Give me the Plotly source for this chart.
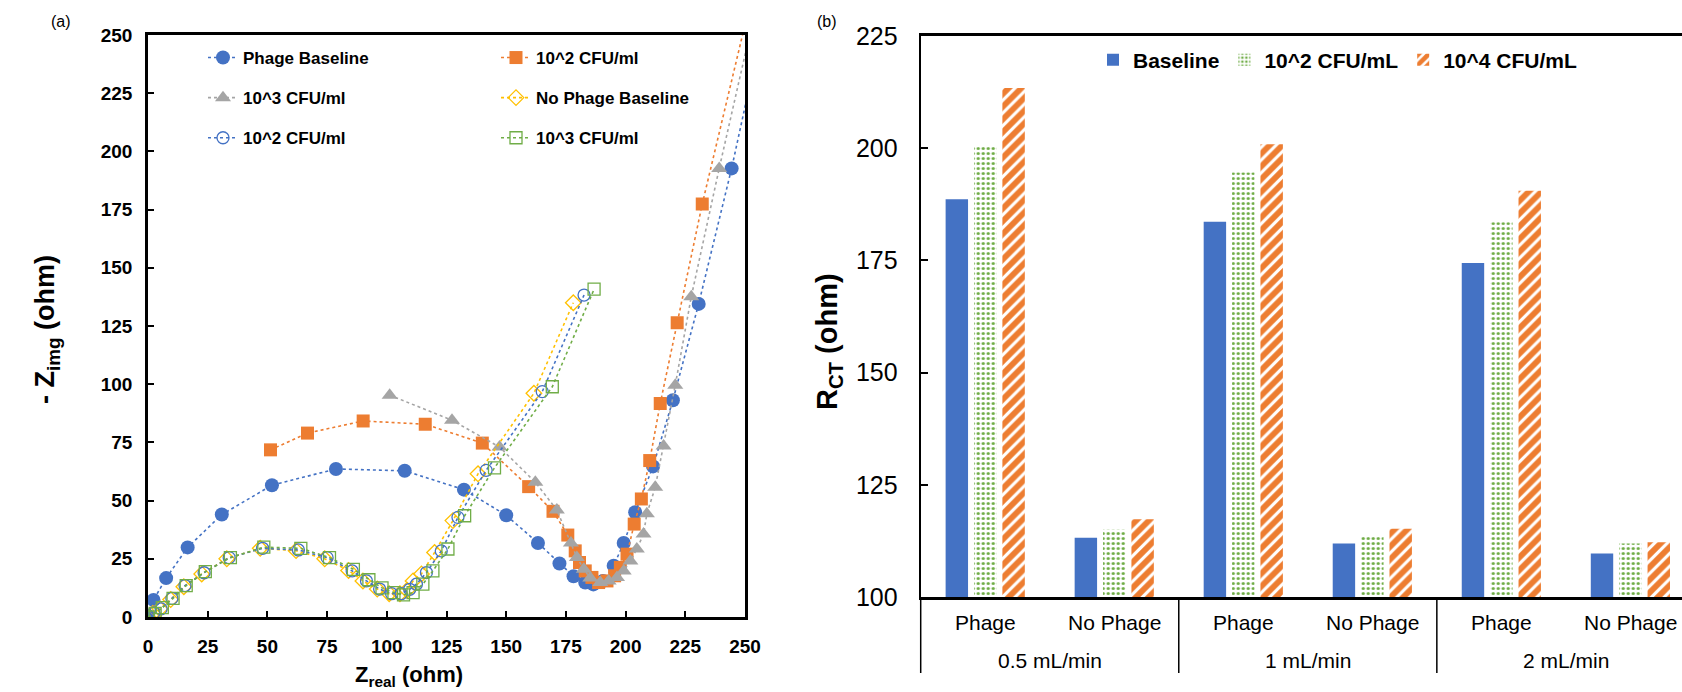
import plotly.graph_objects as go

W, H = 1682, 692
FONT = "Liberation Sans, Arial, sans-serif"

# ---------------- (a) Nyquist data ----------------
phage_base_x = [0, 2.3, 7.6, 16.6, 30.9, 51.9, 78.7, 107.5, 132.3, 150.0, 163.3, 172.3, 178.2, 183.1, 186.5, 190.5, 195.0, 199.2, 204.0, 211.5, 219.8, 230.6, 244.4, 256]
phage_base_y = [0.5, 7.3, 16.7, 29.9, 44.0, 56.6, 63.6, 62.8, 54.7, 43.7, 31.8, 23.0, 17.5, 14.8, 14.0, 15.5, 22.0, 31.8, 45.0, 64.7, 93.1, 134.5, 192.7, 247.5]

phage_e2_x = [51.3, 66.8, 90.1, 116.1, 140.0, 159.4, 169.6, 175.8, 178.9, 180.7, 183.1, 185.9, 188.7, 192.2, 195.4, 197.8, 200.6, 203.6, 206.6, 210.1, 214.5, 221.6, 232.1, 255]
phage_e2_y = [71.8, 79.0, 84.2, 82.8, 74.7, 56.0, 45.4, 35.2, 28.4, 23.4, 19.8, 17.0, 14.8, 15.5, 17.7, 21.3, 27.0, 39.9, 50.7, 67.2, 91.7, 126.4, 177.4, 276]

phage_e3_x = [101.2, 127.3, 147.2, 162.2, 171.2, 177.1, 179.6, 182.5, 185.2, 189.4, 192.9, 196.4, 199.2, 202.0, 204.7, 207.5, 208.9, 212.4, 215.9, 220.8, 227.5, 239.2, 253]
phage_e3_y = [95.3, 84.5, 73.0, 57.9, 46.0, 31.8, 25.6, 20.5, 16.7, 14.8, 15.5, 17.0, 19.8, 24.1, 29.2, 35.6, 44.3, 55.7, 73.4, 99.6, 137.6, 192.7, 255]

nophage_base_x = [0, 2, 5, 9.5, 15, 22.5, 33, 47, 62, 74, 84, 90, 96, 101, 105.5, 108.5, 111, 114.5, 120, 127.7, 138.2, 161.6, 178.1]
nophage_base_y = [0, 1.5, 3.5, 7.5, 13, 18.5, 25, 29.5, 28.5, 25, 20, 15.5, 12, 10, 10, 11.5, 15.5, 18.5, 27.7, 41.4, 61.5, 96.1, 135]

nophage_e2_x = [0, 2.5, 5.5, 10, 15.5, 23.5, 34, 48, 63, 75, 85.5, 91.5, 97, 102, 106, 109.6, 112.4, 116.6, 122.8, 129.8, 141.6, 165.1, 182.6]
nophage_e2_y = [0, 1.8, 3.5, 8, 13.5, 19, 25.5, 29.5, 28.8, 25.5, 19.8, 15.5, 12, 10, 10, 11.9, 14.1, 19.1, 28.4, 42.8, 63, 96.8, 138.3]

nophage_e3_x = [0, 3, 6, 10.5, 16, 24, 34.5, 48.5, 64, 76, 86, 92.5, 98, 103, 107, 111, 115.1, 119.3, 125.6, 132.6, 145.1, 169.3, 186.8]
nophage_e3_y = [0, 1.5, 4, 8, 13.5, 19.5, 25.5, 30, 29.5, 25.5, 20.5, 16, 12.5, 10.5, 9.5, 10.5, 14.1, 19.8, 29.2, 43.5, 64.1, 98.9, 140.8]

nyq_ticks = [0, 25, 50, 75, 100, 125, 150, 175, 200, 225, 250]

# ---------------- (b) R_CT bar data ----------------
flow_rates = ["0.5 mL/min", "0.5 mL/min", "1 mL/min", "1 mL/min", "2 mL/min", "2 mL/min"]
conditions = ["Phage", "No Phage", "Phage", "No Phage", "Phage", "No Phage"]
rct_baseline = [188.6, 113.2, 183.6, 111.9, 174.4, 109.7]
rct_e2 = [200.3, 115.0, 194.6, 113.7, 183.5, 111.9]
rct_e4 = [213.4, 117.3, 200.9, 115.2, 190.5, 112.2]
rct_ticks = [100, 125, 150, 175, 200, 225]

BLUE, ORANGE, GRAY, YELLOW, GREEN = "#4472C4", "#ED7D31", "#A5A5A5", "#FFC000", "#70AD47"

X2_LEFT = 920.7


def px(v):
    return v / W


def py(v):
    return (H - v) / H


fig = go.Figure()


def nyq(x, y, name, color, symbol, size, legend, group, open_=False):
    marker = dict(symbol=symbol, size=size, color=color)
    if open_:
        marker["line"] = dict(color=color, width=1.3)
    fig.add_trace(go.Scatter(
        x=x, y=y, name=name, mode="lines+markers",
        line=dict(color=color, width=1.6, dash="dot"),
        marker=marker, legend=legend, legendgroup=group,
        xaxis="x", yaxis="y"))


nyq(phage_base_x, phage_base_y, "Phage Baseline", BLUE, "circle", 14, "legend", "g1")
nyq(phage_e2_x, phage_e2_y, "10^2 CFU/ml", ORANGE, "square", 13, "legend2", "g2")
nyq(phage_e3_x, phage_e3_y, "10^3 CFU/ml", GRAY, "triangle-up", 14, "legend", "g3")
nyq(nophage_base_x, nophage_base_y, "No Phage Baseline", YELLOW, "diamond-open", 12, "legend2", "g4", True)
nyq(nophage_e2_x, nophage_e2_y, "10^2 CFU/ml", BLUE, "circle-open", 12, "legend", "g5", True)
nyq(nophage_e3_x, nophage_e3_y, "10^3 CFU/ml", GREEN, "square-open", 12, "legend2", "g6", True)

# category positions along the bar axis
xpos = list(range(len(conditions)))

fig.add_trace(go.Bar(x=xpos, y=rct_baseline, name="Baseline",
                     marker=dict(color=BLUE, line=dict(width=0)),
                     xaxis="x2", yaxis="y2", legend="legend3"))
fig.add_trace(go.Bar(x=xpos, y=rct_e2, name="10^2 CFU/mL",
                     marker=dict(color=GREEN, line=dict(width=0),
                                 pattern=dict(shape=".", fgcolor=GREEN, bgcolor="white",
                                              size=5, solidity=0.33, fgopacity=1,
                                              fillmode="replace")),
                     xaxis="x2", yaxis="y2", legend="legend3"))
fig.add_trace(go.Bar(x=xpos, y=rct_e4, name="10^4 CFU/mL",
                     marker=dict(color=ORANGE, line=dict(width=0),
                                 pattern=dict(shape="/", fgcolor=ORANGE, bgcolor="white",
                                              size=9, solidity=0.65, fgopacity=1,
                                              fillmode="replace")),
                     xaxis="x2", yaxis="y2", legend="legend3"))

# category labels, group labels and dividers for the two-level axis
annotations = []
shapes = []
AX_BOTTOM = 597
for i, c in enumerate(conditions):
    annotations.append(dict(text=c, x=xpos[i], y=py(622), xref="x2", yref="paper",
                            xanchor="center", yanchor="middle", showarrow=False,
                            font=dict(family=FONT, size=21, color="black")))
groups = []
for i, g in enumerate(flow_rates):
    if not groups or groups[-1][0] != g:
        groups.append([g, i, i])
    else:
        groups[-1][2] = i
for k, (g, a, b) in enumerate(groups):
    annotations.append(dict(text=g, x=(xpos[a] + xpos[b]) / 2, y=py(660), xref="x2", yref="paper",
                            xanchor="center", yanchor="middle", showarrow=False,
                            font=dict(family=FONT, size=21, color="black")))
    if k == 0:
        shapes.append(dict(type="line", xref="paper", yref="paper", x0=px(X2_LEFT), x1=px(X2_LEFT),
                           y0=py(AX_BOTTOM), y1=py(673), line=dict(color="black", width=1.5)))
    else:
        edge = xpos[a] - 0.5
        shapes.append(dict(type="line", xref="x2", yref="paper", x0=edge, x1=edge,
                           y0=py(AX_BOTTOM), y1=py(673), line=dict(color="black", width=1.5)))

annotations += [
    dict(text="(a)", x=px(61), y=py(21), xref="paper", yref="paper", showarrow=False,
         xanchor="center", yanchor="middle", font=dict(family=FONT, size=16, color="black")),
    dict(text="(b)", x=px(827), y=py(21), xref="paper", yref="paper", showarrow=False,
         xanchor="center", yanchor="middle", font=dict(family=FONT, size=16, color="black")),
    dict(text="- Z<sub>img</sub> (ohm)", x=px(47), y=py(330), xref="paper", yref="paper",
         showarrow=False, textangle=-90, xanchor="center", yanchor="middle",
         font=dict(family=FONT, size=27, color="black", weight="bold")),
    dict(text="Z<sub>real</sub> (ohm)", x=px(409), y=py(676), xref="paper", yref="paper",
         showarrow=False, xanchor="center", yanchor="middle",
         font=dict(family=FONT, size=22, color="black", weight="bold")),
    dict(text="R<sub>CT</sub> (ohm)", x=px(829), y=py(342), xref="paper", yref="paper",
         showarrow=False, textangle=-90, xanchor="center", yanchor="middle",
         font=dict(family=FONT, size=29, color="black", weight="bold")),
]

bold_tick = dict(family=FONT, size=19, color="black", weight="bold")
norm_tick = dict(family=FONT, size=25, color="black")

fig.update_layout(
    width=W, height=H, margin=dict(l=0, r=0, t=0, b=0, autoexpand=False),
    paper_bgcolor="white", plot_bgcolor="white",
    font=dict(family=FONT, color="black"),
    barmode="group", bargap=0.34, bargroupgap=0.21,
    xaxis=dict(domain=[px(148), px(745)], range=[0, 250], tickvals=nyq_ticks,
               ticks="inside", ticklen=6, tickwidth=2, tickcolor="black",
               showline=True, linewidth=2.5, linecolor="black", mirror=True,
               showgrid=False, zeroline=False, tickfont=bold_tick, anchor="y",
               ticklabelstandoff=10),
    yaxis=dict(domain=[py(617), py(35)], range=[0, 250], tickvals=nyq_ticks,
               ticks="inside", ticklen=6, tickwidth=2, tickcolor="black",
               showline=True, linewidth=2.5, linecolor="black", mirror=True,
               showgrid=False, zeroline=False, tickfont=bold_tick, anchor="x",
               ticklabelstandoff=9),
    xaxis2=dict(domain=[px(X2_LEFT), 1.0], range=[-0.5, 5.4],
                showline=True, linewidth=2.5, linecolor="black", mirror=True,
                ticks="", showticklabels=False, showgrid=False, zeroline=False,
                anchor="y2"),
    yaxis2=dict(domain=[py(597), py(36)], range=[100, 225], tickvals=rct_ticks,
                ticks="inside", ticklen=7, tickwidth=2, tickcolor="black",
                showline=True, linewidth=2, linecolor="black",
                showgrid=False, zeroline=False, tickfont=norm_tick, anchor="x2",
                ticklabelstandoff=16),
    legend=dict(x=px(203), y=py(40), xanchor="left", yanchor="top",
                font=dict(family=FONT, size=17, color="black", weight="bold"),
                bgcolor="rgba(0,0,0,0)", tracegroupgap=15, itemwidth=30),
    legend2=dict(x=px(496), y=py(40), xanchor="left", yanchor="top",
                 font=dict(family=FONT, size=17, color="black", weight="bold"),
                 bgcolor="rgba(0,0,0,0)", tracegroupgap=15, itemwidth=30),
    legend3=dict(x=px(1093), y=py(60), xanchor="left", yanchor="middle", orientation="h",
                 font=dict(family=FONT, size=21, color="black", weight="bold"),
                 bgcolor="rgba(0,0,0,0)", itemwidth=30),
    annotations=annotations,
    shapes=shapes,
)

fig.write_html("out.html")
